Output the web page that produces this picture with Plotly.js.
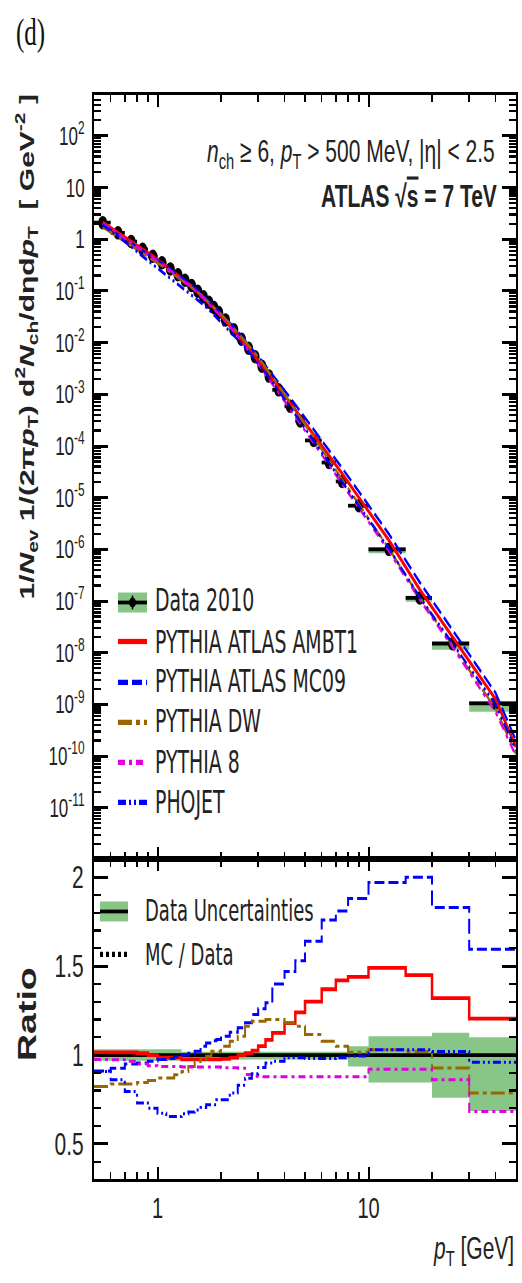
<!DOCTYPE html>
<html><head><meta charset="utf-8">
<script src="https://cdn.plot.ly/plotly-3.0.1.min.js"></script>
<style>
html{margin:0;padding:0;background:#fff;overflow:hidden;width:522px;height:1283px}
body{margin:0;padding:0;background:#fff;width:522px;height:1283px;overflow:visible}
#wrap{width:522px;height:855px;transform-origin:0 0;transform:scale(1,1.50058)}
#plot{width:522px;height:855px}
</style></head>
<body><div id="wrap"><div id="plot"></div></div>
<script>
// ---- data ----
const binEdges = [0.5,0.6,0.7,0.8,0.9,1.0,1.1,1.2,1.3,1.4,1.5,1.6,1.7,1.8,1.9,2.0,2.2,2.4,2.6,2.8,3.0,3.25,3.5,4.0,4.5,5.0,6.0,7.0,8.0,10,15,20,30,50];
const dataValues = [2.09,1.33,0.904,0.640,0.469,0.351,0.267,0.206,0.161,0.127,0.0989,0.0769,0.0604,0.0479,0.0382,0.0274,0.0177,0.0116,0.00780,0.00531,0.00349,0.00225,0.00122,5.87e-4,3.05e-4,1.28e-4,4.79e-5,2.06e-5,7.0e-6,1.0e-6,1.15e-7,1.5e-8,1.05e-9];
const bandUp = [1.032,1.032,1.032,1.032,1.032,1.032,1.032,1.032,1.018,1.018,1.018,1.018,1.018,1.018,1.018,1.018,1.018,1.018,1.018,1.018,1.018,1.018,1.018,1.018,1.018,1.018,1.018,1.018,1.05,1.106,1.106,1.125,1.10];
const bandLo = [0.968,0.968,0.968,0.968,0.968,0.968,0.968,0.968,0.975,0.975,0.975,0.975,0.975,0.975,0.975,0.975,0.975,0.975,0.975,0.975,0.975,0.975,0.975,0.975,0.975,0.975,0.975,0.975,0.935,0.845,0.845,0.76,0.685];
const ratioAMBT1 = [1.015,1.015,1.015,1.01,1.0,0.985,0.985,0.985,0.975,0.975,0.975,0.975,0.975,0.975,0.975,0.978,0.985,1.0,1.01,1.025,1.05,1.085,1.125,1.18,1.24,1.30,1.37,1.42,1.44,1.49,1.45,1.32,1.205];
const ratioMC09 = [0.91,0.925,0.95,0.955,0.965,0.975,0.98,0.99,1.0,1.01,1.021,1.05,1.068,1.08,1.087,1.106,1.128,1.153,1.181,1.228,1.26,1.294,1.40,1.47,1.53,1.64,1.76,1.81,1.88,1.97,2.0,1.83,1.595];
const ratioDW = [0.823,0.837,0.837,0.846,0.857,0.871,0.871,0.889,0.908,0.936,0.964,0.975,0.993,1.021,1.021,1.049,1.077,1.106,1.162,1.19,1.19,1.20,1.20,1.18,1.162,1.115,1.077,1.049,1.015,1.03,1.02,0.927,0.786];
const ratioP8 = [0.975,0.974,0.965,0.95,0.94,0.935,0.935,0.935,0.932,0.932,0.932,0.932,0.932,0.932,0.932,0.928,0.928,0.926,0.89,0.88,0.878,0.878,0.878,0.878,0.878,0.878,0.878,0.878,0.878,0.92,0.92,0.861,0.682];
const ratioPHOJET = [0.908,0.861,0.795,0.73,0.70,0.673,0.654,0.654,0.67,0.68,0.69,0.705,0.72,0.72,0.748,0.748,0.786,0.83,0.87,0.895,0.93,0.955,0.965,0.985,0.985,0.98,0.98,0.985,0.995,1.03,1.03,1.02,0.96];
const mcNames = ["PYTHIA ATLAS AMBT1","PYTHIA ATLAS MC09","PYTHIA DW","PYTHIA 8","PHOJET"];
const mcAt50 = [1.5e-10,2.0e-10,1.1e-10,1.0e-10,1.3e-10];
const yTickVals = [1e-12,1e-11,1e-10,1e-9,1e-8,1e-7,1e-6,1e-5,1e-4,1e-3,1e-2,1e-1,1,10,100];
const yTickText = ['','10<sup>-11</sup>','10<sup>-10</sup>','10<sup>-9</sup>','10<sup>-8</sup>','10<sup>-7</sup>','10<sup>-6</sup>','10<sup>-5</sup>','10<sup>-4</sup>','10<sup>-3</sup>','10<sup>-2</sup>','10<sup>-1</sup>','1','10','10<sup>2</sup>'];
const xTickVals = [1,10];
const xTickText = ['1','10'];
const rTickVals = [0.5,1,1.5,2];
const rTickText = ['0.5','1','1.5','2'];

// ---- styles ----
const F = "'Liberation Sans', Arial, sans-serif";
const FN = "'Liberation Sans Narrow', 'Arial Narrow', 'DejaVu Sans Condensed', sans-serif";
const GREEN = '#88c688';
const mcRatios = [ratioAMBT1, ratioMC09, ratioDW, ratioP8, ratioPHOJET];
const mcStyles = [
  {color:'#ff0000', dash:'solid', width:2.5},
  {color:'#0000ff', dash:'10px,4px', width:2},
  {color:'#996600', dash:'14px,4px,4px,4px', width:2},
  {color:'#e000e0', dash:'7px,4px,3px,4px', width:2},
  {color:'#0000ff', dash:'8px,3px,2px,3px,2px,3px', width:2}
];

const nb = dataValues.length;
const lo = binEdges.slice(0, nb), hi = binEdges.slice(1);
const centers = lo.map((l,i)=> (l + hi[i]) / 2);
const step = v => v.concat([v[v.length-1]]);

const traces = [];
// main panel: systematic boxes
traces.push({x: binEdges, y: step(dataValues.map((v,i)=>v*bandLo[i])), xaxis:'x2', yaxis:'y', mode:'lines',
  line:{shape:'hv', width:0, color:GREEN}, hoverinfo:'skip', showlegend:false});
traces.push({x: binEdges, y: step(dataValues.map((v,i)=>v*bandUp[i])), xaxis:'x2', yaxis:'y', mode:'lines',
  line:{shape:'hv', width:0, color:GREEN}, fill:'tonexty', fillcolor:GREEN, hoverinfo:'skip', showlegend:false});
// data points
traces.push({x: centers, y: dataValues, xaxis:'x2', yaxis:'y', mode:'markers', name:'Data 2010',
  marker:{size:9, color:'#000'},
  error_x:{type:'data', symmetric:false, array: hi.map((h,i)=>h-centers[i]), arrayminus: lo.map((l,i)=>centers[i]-l),
    width:0, thickness:2.5, color:'#000'}, showlegend:false});
// MC predictions in main panel
mcRatios.forEach((r,k)=>{
  traces.push({x: centers.concat([binEdges[nb]]), y: dataValues.map((v,i)=>v*r[i]).concat([mcAt50[k]]),
    xaxis:'x2', yaxis:'y', mode:'lines', name: mcNames[k],
    line:{color:mcStyles[k].color, width:mcStyles[k].width, dash:mcStyles[k].dash}, showlegend:false});
});
// ratio panel: data uncertainty band
traces.push({x: binEdges, y: step(bandLo), xaxis:'x', yaxis:'y2', mode:'lines',
  line:{shape:'hv', width:0, color:GREEN}, hoverinfo:'skip', showlegend:false});
traces.push({x: binEdges, y: step(bandUp), xaxis:'x', yaxis:'y2', mode:'lines',
  line:{shape:'hv', width:0, color:GREEN}, fill:'tonexty', fillcolor:GREEN, hoverinfo:'skip', showlegend:false});
// data / data
traces.push({x: binEdges, y: step(dataValues.map(v=>v/v)), xaxis:'x', yaxis:'y2', mode:'lines',
  line:{shape:'hv', width:2.5, color:'#000'}, showlegend:false});
mcRatios.forEach((r,k)=>{
  traces.push({x: binEdges, y: step(r), xaxis:'x', yaxis:'y2', mode:'lines', name: mcNames[k],
    line:{shape:'hv', color:mcStyles[k].color, width:mcStyles[k].width, dash:mcStyles[k].dash}, showlegend:false});
});

// ---- layout helpers (reference pixel -> paper) ----
const px = x => (x - 94) / 422;
const py = y => (1180 - y) / 1085;
const split = py(860);

const minorX = [0.6,0.7,0.8,0.9,2,3,4,5,6,7,8,9,20,30,40];
const minorY = [];
for (let e = -12; e <= 2; e++) for (let m = 2; m <= 9; m++) minorY.push(m * Math.pow(10, e));

const xCommon = {type:'log', range:[Math.log10(0.5), Math.log10(50)], showline:true, linewidth:2, linecolor:'#000',
  mirror:'allticks', ticks:'inside', ticklen:8, tickwidth:2, tickcolor:'#000', showgrid:false, zeroline:false,
  tickvals:xTickVals, ticktext:xTickText, tickfont:{family:F, size:20, color:'#222'}, ticklabelstandoff:0,
  minor:{tickvals:minorX, ticks:'inside', ticklen:5, tickwidth:1.5, tickcolor:'#000'}};

const annotations = [
  {text:'(d)', x:px(30), y:py(33), xref:'paper', yref:'paper', showarrow:false, xanchor:'center', yanchor:'middle',
   font:{family:"'Liberation Serif', 'Times New Roman', serif", size:25, color:'#111'}},
  {text:'<i>n</i><sub>ch</sub> ≥ 6, <i>p</i><sub>T</sub> &gt; 500 MeV, |η| &lt; 2.5', x:px(497), y:py(153), xref:'paper', yref:'paper',
   showarrow:false, xanchor:'right', yanchor:'middle', font:{family:F, size:21, color:'#222'}},
  {text:"<b>ATLAS √<span style='text-decoration:overline'>s</span> = 7 TeV</b>", x:px(499), y:py(197), xref:'paper', yref:'paper',
   showarrow:false, xanchor:'right', yanchor:'middle', font:{family:F, size:21, color:'#222'}},
  {text:'<b>1/<i>N</i><sub>ev</sub> 1/(2π<i>p</i><sub>T</sub>) d<sup>2</sup><i>N</i><sub>ch</sub>/dηd<i>p</i><sub>T</sub>  [ GeV<sup>-2</sup> ]</b>',
   x:px(27), y:py(348), xref:'paper', yref:'paper', showarrow:false, textangle:-90, xanchor:'center', yanchor:'middle',
   font:{family:F, size:20, color:'#222'}},
  {text:'<b>Ratio</b>', x:px(27), y:py(1015), xref:'paper', yref:'paper', showarrow:false, textangle:-90,
   xanchor:'center', yanchor:'middle', font:{family:F, size:25, color:'#222'}},
  {text:'<i>p</i><sub>T</sub> [GeV]', x:px(516), y:py(1250), xref:'paper', yref:'paper', showarrow:false,
   xanchor:'right', yanchor:'middle', font:{family:F, size:21, color:'#222'}}
];
const shapes = [];
// main legend
const legRows = [601, 643, 682, 722, 763, 803];
const legSym = [603, 642, 683, 723, 763, 803];
['Data 2010'].concat(mcNames).forEach((t,i)=>{
  annotations.push({text:t, x:px(153), y:py(legRows[i]), xref:'paper', yref:'paper', showarrow:false,
    xanchor:'left', yanchor:'middle', font:{family:FN, size:21, color:'#222'}});
});
shapes.push({type:'rect', xref:'paper', yref:'paper', x0:px(118), x1:px(147), y0:py(593), y1:py(613), fillcolor:GREEN, line:{width:0}});
shapes.push({type:'line', xref:'paper', yref:'paper', x0:px(118), x1:px(147), y0:py(603), y1:py(603), line:{color:'#000', width:2.5}});
shapes.push({type:'line', xref:'paper', yref:'paper', x0:px(132.5), x1:px(132.5), y0:py(596), y1:py(610), line:{color:'#000', width:1.5}});
shapes.push({type:'circle', xref:'paper', yref:'paper', x0:px(129), x1:px(136), y0:py(598), y1:py(608), fillcolor:'#000', line:{width:0}});
mcStyles.forEach((s,k)=>{
  shapes.push({type:'line', xref:'paper', yref:'paper', x0:px(118), x1:px(147), y0:py(legSym[k+1]), y1:py(legSym[k+1]),
    line:{color:s.color, width:3.5, dash:s.dash}});
});
// ratio legend
annotations.push({text:'Data Uncertainties', x:px(143), y:py(912), xref:'paper', yref:'paper', showarrow:false,
  xanchor:'left', yanchor:'middle', font:{family:FN, size:20, color:'#222'}});
annotations.push({text:'MC / Data', x:px(143), y:py(955), xref:'paper', yref:'paper', showarrow:false,
  xanchor:'left', yanchor:'middle', font:{family:FN, size:20, color:'#222'}});
shapes.push({type:'rect', xref:'paper', yref:'paper', x0:px(100), x1:px(128), y0:py(902), y1:py(922), fillcolor:GREEN, line:{width:0}});
shapes.push({type:'line', xref:'paper', yref:'paper', x0:px(100), x1:px(128), y0:py(912), y1:py(912), line:{color:'#000', width:2.5}});
shapes.push({type:'line', xref:'paper', yref:'paper', x0:px(100), x1:px(128), y0:py(955), y1:py(955), line:{color:'#000', width:3.5, dash:'3px,3px'}});

const layout = {
  width:522, height:855,
  margin:{l:94, r:6, t:95/1.50058, b:855 - 1180/1.50058, pad:0},
  paper_bgcolor:'#fff', plot_bgcolor:'#fff', showlegend:false,
  xaxis: Object.assign({}, xCommon, {anchor:'y2', domain:[0,1]}),
  xaxis2: Object.assign({}, xCommon, {anchor:'y', domain:[0,1], matches:'x', showticklabels:false}),
  yaxis: {type:'log', domain:[split,1], anchor:'x2', range:[-12, 2.8], showline:true, linewidth:2, linecolor:'#000',
    mirror:'allticks', ticks:'inside', ticklen:14, tickwidth:2, tickcolor:'#000', showgrid:false, zeroline:false,
    tickvals:yTickVals, ticktext:yTickText, tickfont:{family:F, size:17, color:'#222'}, ticklabelstandoff:4,
    minor:{tickvals:minorY, ticks:'inside', ticklen:7, tickwidth:1.5, tickcolor:'#000'}},
  yaxis2: {domain:[0,split], anchor:'x', range:[0.3, 2.1], showline:true, linewidth:2, linecolor:'#000',
    mirror:'allticks', ticks:'inside', ticklen:14, tickwidth:2, tickcolor:'#000', showgrid:false, zeroline:false,
    tickvals:rTickVals, ticktext:rTickText, tickfont:{family:F, size:21, color:'#222'}, ticklabelstandoff:4,
    minor:{dtick:0.1, tick0:0, ticks:'inside', ticklen:7, tickwidth:1.5, tickcolor:'#000'}},
  annotations: annotations,
  shapes: shapes
};
Plotly.newPlot('plot', traces, layout, {staticPlot:true, displayModeBar:false});
</script>
</body></html>
